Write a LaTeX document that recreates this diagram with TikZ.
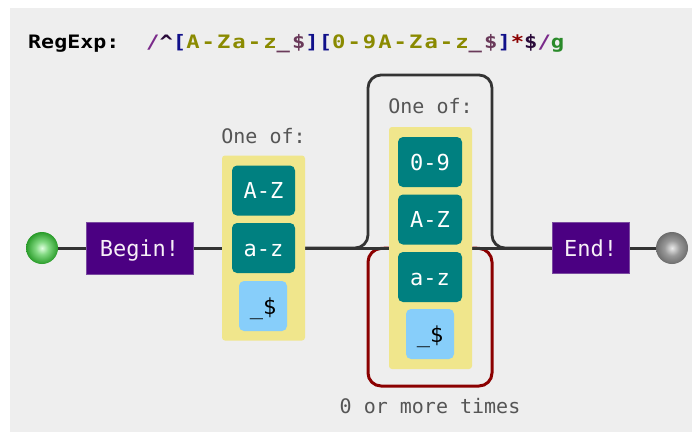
\documentclass[tikz,border=0pt]{standalone}
\usepackage{fontspec}
\setmonofont{DejaVu Sans Mono}
\newfontfamily\titlefontA[FakeStretch=1.17]{DejaVu Sans Mono}
\newfontfamily\titlefontB[FakeStretch=1.2,LetterSpace=11]{DejaVu Sans Mono}
\definecolor{bg}{HTML}{EEEEEE}
\definecolor{indigoc}{HTML}{4B0082}
\definecolor{indigob}{HTML}{7A4AA0}
\definecolor{tealc}{HTML}{008080}
\definecolor{khakic}{HTML}{F0E68C}
\definecolor{skyb}{HTML}{87CEFA}
\definecolor{loopred}{HTML}{8B0000}
\definecolor{linec}{HTML}{333333}
\definecolor{labelc}{HTML}{555555}
\definecolor{rxslash}{HTML}{7A2A8A}
\definecolor{rxanchor}{HTML}{2A0A3A}
\definecolor{rxbracket}{HTML}{10108A}
\definecolor{rxclass}{HTML}{8A8A00}
\definecolor{rxesc}{HTML}{6A3A5A}
\definecolor{rxstar}{HTML}{8B0000}
\definecolor{rxflag}{HTML}{2A8A2A}
\pgfdeclareradialshading{greenball}{\pgfpoint{0bp}{0bp}}{color(0bp)=(green!12!white); color(10bp)=(green!40!white!85!black); color(32bp)=(green!50!black); color(50bp)=(green!38!black)}
\pgfdeclareradialshading{greyball}{\pgfpoint{0bp}{0bp}}{color(0bp)=(white!92!black); color(12bp)=(white!60!black); color(36bp)=(black!72); color(50bp)=(black!88)}
\pgfdeclarelayer{backdrop}
\pgfdeclarelayer{wires}
\pgfsetlayers{backdrop,wires,main}
\tikzset{
  conn/.style={draw=linec, line width=3pt},
  skiploop/.style={draw=linec, line width=2.8pt, rounded corners=13pt},
  reploop/.style={draw=loopred, line width=3pt, rounded corners=13pt},
  nodefont/.style={font=\ttfamily\fontsize{22}{22}\selectfont, inner sep=0pt, text height=16pt, text depth=0pt},
  termbox/.style={nodefont, rectangle, fill=indigoc, draw=indigob, line width=0.8pt, text=white!94!violet},
  rangebox/.style={nodefont, rectangle, fill=tealc, rounded corners=5pt, text=white, minimum width=63pt, minimum height=50pt},
  litbox/.style={nodefont, rectangle, fill=skyb, rounded corners=5pt, text=black, minimum width=48pt, minimum height=50pt},
  groupbox/.style={rectangle, fill=khakic, rounded corners=3pt, inner sep=0pt, minimum width=83pt},
  lbl/.style={font=\ttfamily\fontsize{20}{20}\selectfont, text=labelc, inner sep=0pt, text height=14.6pt, text depth=0pt},
  ballnode/.style={circle, minimum size=32pt, inner sep=0pt},
}
\begin{document}
\begin{tikzpicture}[x=1pt,y=-1pt]
\useasboundingbox (0,0) rectangle (692,432);
\begin{pgfonlayer}{backdrop}
\fill[white] (0,0) rectangle (692,432);
\fill[bg] (10,8) rectangle (692,432);
\end{pgfonlayer}
% title
\node[anchor=base west, inner sep=0pt, font=\titlefontA\bfseries\fontsize{18.5}{18.5}\selectfont] (rxlabel) at (28,48.5) {RegExp:};
\node[anchor=base west, inner sep=0pt, font=\titlefontB\bfseries\fontsize{18.5}{18.5}\selectfont] (rxtext) at (146,48.5) {%
{\color{rxslash}/}{\color{rxanchor}\textasciicircum}{\color{rxbracket}[}{\color{rxclass}A-Za-z}{\color{rxesc}\_\$}{\color{rxbracket}]}{\color{rxbracket}[}{\color{rxclass}0-9A-Za-z}{\color{rxesc}\_\$}{\color{rxbracket}]}{\color{rxstar}*}{\color{rxanchor}\$}{\color{rxslash}/}{\color{rxflag}g}};
% terminals
\node[ballnode, shading=greenball] (start) at (42,248) {};
\node[ballnode, shading=greyball] (stop) at (672,248) {};
\node[termbox, minimum width=107pt, minimum height=52pt] (begin) at (139.5,248) {Begin!};
\node[termbox, minimum width=77pt, minimum height=51pt] (end) at (590.5,248) {End!};
% group 1
\node[groupbox, minimum height=185pt] (grp1) at (263.5,248) {};
\node[lbl] (lbl1) at (263.5,136) {One of:};
\node[rangebox] (g1az) at (263.5,190.5) {A-Z};
\node[rangebox] (g1lz) at (263.5,248) {a-z};
\node[litbox] (g1us) at (263,306) {\_\$};
% group 2
\node[groupbox, minimum height=242pt] (grp2) at (430.5,248) {};
\node[lbl] (lbl2) at (430.5,106) {One of:};
\node[rangebox, minimum width=64pt] (g2dg) at (430,162) {0-9};
\node[rangebox, minimum width=64pt] (g2az) at (430,219.5) {A-Z};
\node[rangebox, minimum width=64pt] (g2lz) at (430,277) {a-z};
\node[litbox] (g2us) at (430,334) {\_\$};
\node[lbl] (lbl3) at (430,406) {0 or more times};
% connectors
\begin{pgfonlayer}{wires}
\draw[reploop] (grp2.west) -- (368,249) -- (368,386) -- (492,386) -- (492,249) -- (grp2.east);
\draw[conn] (start) -- (begin);
\draw[conn] (begin) -- (grp1);
\draw[conn] (grp1) -- (grp2);
\draw[conn] (grp2) -- (end);
\draw[conn] (end) -- (stop);
\draw[skiploop] (grp1.east) -- (368,248) -- (368,75) -- (492,75) -- (492,248) -- (end.west);
\end{pgfonlayer}
\end{tikzpicture}
\end{document}
